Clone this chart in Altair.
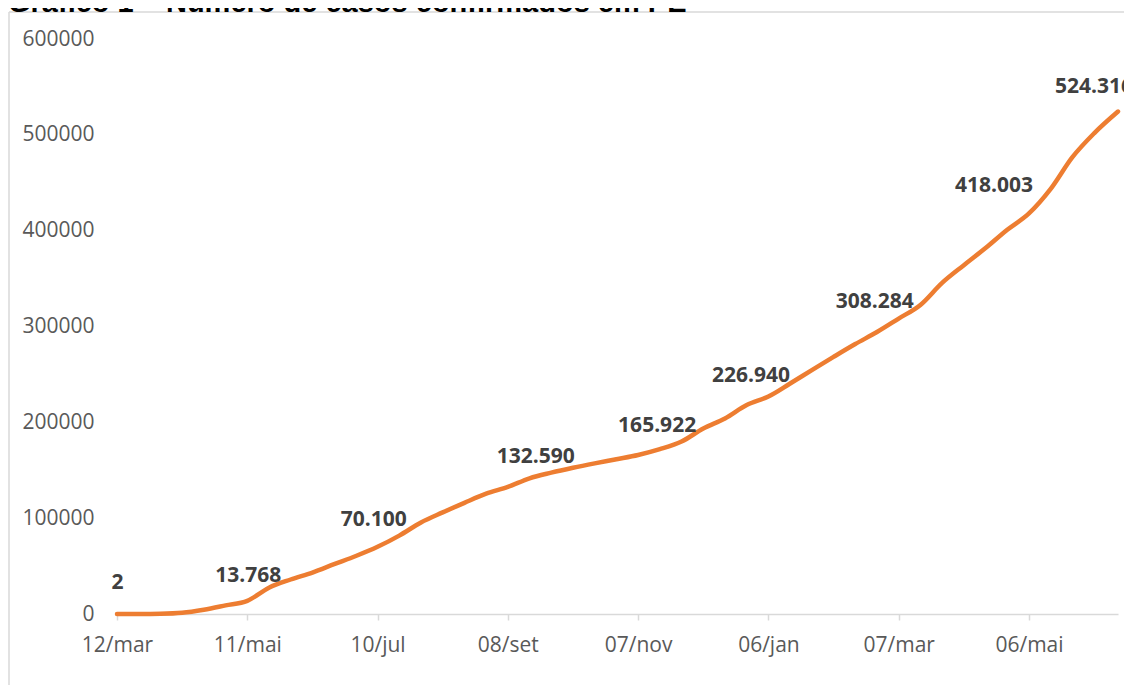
import json
import altair as alt
import pandas as pd

title_text = "Gráfico 1 – Número de casos confirmados em PE"

dates = [
    "2020-03-12", "2020-03-22", "2020-04-01", "2020-04-11", "2020-04-21",
    "2020-05-01", "2020-05-11", "2020-05-21", "2020-05-31", "2020-06-10",
    "2020-06-20", "2020-06-30", "2020-07-10", "2020-07-20", "2020-07-30",
    "2020-08-09", "2020-08-19", "2020-08-29", "2020-09-08", "2020-09-18",
    "2020-09-28", "2020-10-08", "2020-10-18", "2020-10-28", "2020-11-07",
    "2020-11-17", "2020-11-27", "2020-12-07", "2020-12-17", "2020-12-27",
    "2021-01-06", "2021-01-16", "2021-01-26", "2021-02-05", "2021-02-15",
    "2021-02-25", "2021-03-07", "2021-03-17", "2021-03-27", "2021-04-06",
    "2021-04-16", "2021-04-26", "2021-05-06", "2021-05-16", "2021-05-26",
    "2021-06-05", "2021-06-16",
]
cases = [
    2, 30, 250, 1300, 4500,
    9000, 13768, 27500, 36000, 43300,
    52000, 60500, 70100, 81800, 95500,
    106000, 116000, 125500, 132590, 141600,
    147500, 152600, 157200, 161500, 165922,
    172000, 180000, 193500, 204000, 218000,
    226940, 240500, 254500, 268300, 281700,
    294200, 308284, 322500, 345500, 364000,
    381800, 400900, 418003, 443600, 476700,
    501600, 524316,
]

label_dates = ["2020-03-12", "2020-05-11", "2020-07-10", "2020-09-08", "2020-11-07",
               "2021-01-06", "2021-03-07", "2021-05-06", "2021-06-16"]
label_values = [2, 13768, 70100, 132590, 165922, 226940, 308284, 418003, 524316]
label_texts = ["2", "13.768", "70.100", "132.590", "165.922",
               "226.940", "308.284", "418.003", "524.316"]

tick_dates = ["2020-03-12", "2020-05-11", "2020-07-10", "2020-09-08",
              "2020-11-07", "2021-01-06", "2021-03-07", "2021-05-06"]
tick_labels = ["12/mar", "11/mai", "10/jul", "08/set", "07/nov", "06/jan", "07/mar", "06/mai"]
y_ticks = [0, 100000, 200000, 300000, 400000, 500000, 600000]

df = pd.DataFrame({"date": dates, "cases": cases})
lab = pd.DataFrame({"date": label_dates, "cases": label_values, "txt": label_texts})

t0 = int(pd.Timestamp("2020-03-12", tz="UTC").timestamp() * 1000)
step = 60 * 86400000
label_expr = f"{json.dumps(tick_labels)}[round((datum.value - {t0}) / {step})]"


def dt(s):
    ts = pd.Timestamp(s)
    return alt.DateTime(year=ts.year, month=ts.month, date=ts.day, utc=True)


x_enc = alt.X(
    "date:T",
    scale=alt.Scale(type="utc", domain=[dt("2020-03-12"), dt("2021-06-16")]),
    axis=alt.Axis(
        values=[dt(d) for d in tick_dates],
        labelExpr=label_expr,
        title=None,
        grid=False,
        domainColor="#d9d9d9",
        domainWidth=1.5,
        tickColor="#d9d9d9",
        tickWidth=1.5,
        tickSize=6,
        labelFont="Open Sans",
        labelFontSize=21,
        labelColor="#595959",
        labelPadding=14,
        labelFlush=False,
        labelOverlap=False,
    ),
)
y_enc = alt.Y(
    "cases:Q",
    scale=alt.Scale(domain=[0, 600000], nice=False),
    axis=alt.Axis(
        values=y_ticks,
        format="d",
        title=None,
        grid=False,
        domain=False,
        ticks=False,
        labelFont="Open Sans",
        labelFontSize=21,
        labelColor="#595959",
        labelPadding=23,
    ),
)

base = alt.Chart(df)
line = base.mark_line(
    color="#ED7D31", strokeWidth=4.5, strokeCap="round", strokeJoin="round",
    interpolate="monotone",
).encode(x=x_enc, y=y_enc)

offsets = [(0.5, -31), (1, -25), (-3.7, -27), (28, -30), (19, -29),
           (-17.5, -20.5), (-24, -17), (-35, -27), (-24, -25)]
label_layers = []
for i, (dx, dy) in enumerate(offsets):
    label_layers.append(
        alt.Chart(lab.iloc[[i]]).mark_text(
            font="Open Sans", fontWeight="bold", fontSize=21, color="#404040",
            align="center", baseline="middle", dx=dx, dy=dy,
        ).encode(x=alt.X("date:T"), y=alt.Y("cases:Q"), text="txt:N")
    )

one = pd.DataFrame({"a": [0]})
frame_left = alt.Chart(one).mark_rule(color="#d9d9d9", strokeWidth=1.5).encode(
    x=alt.value(-108), y=alt.value(-27), y2=alt.value(700)
)
frame_top = alt.Chart(one).mark_rule(color="#d9d9d9", strokeWidth=1.5).encode(
    x=alt.value(-108), x2=alt.value(1010), y=alt.value(-27)
)
title_mark = alt.Chart(one).mark_text(
    font="Liberation Sans", fontWeight="bold", fontSize=29, color="#000000",
    align="left", baseline="alphabetic",
).encode(x=alt.value(-109), y=alt.value(-27), text=alt.value(title_text))

chart = alt.layer(frame_left, frame_top, line, *label_layers, title_mark).properties(
    width=1001,
    height=575,
    padding={"left": 109, "top": 31, "right": 6, "bottom": 71},
    autosize=alt.AutoSizeParams(type="none"),
    background="white",
).configure_view(stroke="transparent", strokeWidth=0)

chart.save("out.html", embed_options={"renderer": "svg", "actions": False})
